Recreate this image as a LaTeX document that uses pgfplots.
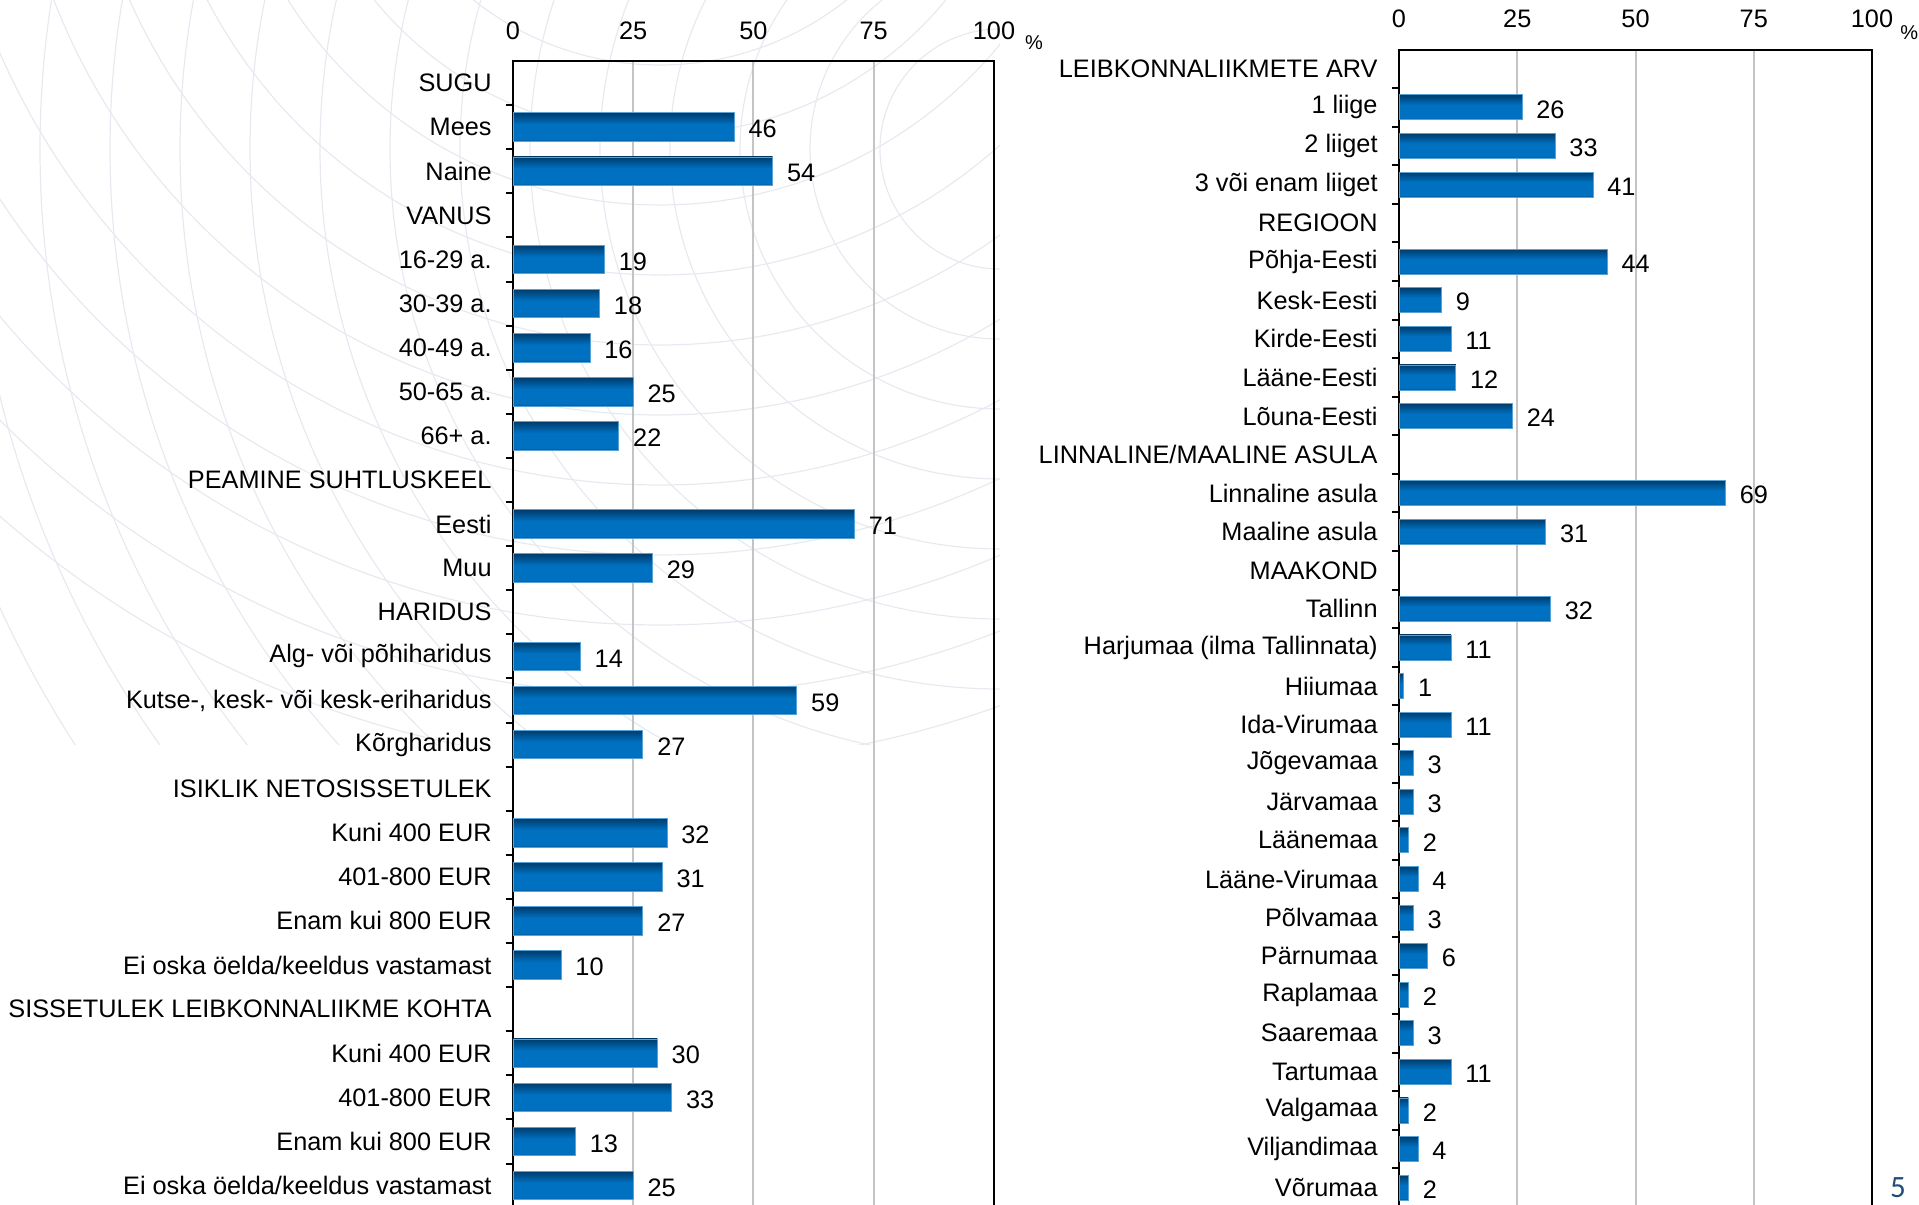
\documentclass[border=0pt]{standalone}
\usepackage{pgfplots}
\pgfplotsset{compat=1.18}
\usepackage{fontspec}
\setmainfont{Liberation Sans}
\newfontfamily\pagefont{Carlito}

\definecolor{barmid}{HTML}{0070C0}
\definecolor{bardark}{HTML}{003C6C}
\definecolor{gridgray}{HTML}{C4C4C4}
\definecolor{bgline}{HTML}{E6EAF0}
\definecolor{pagenum}{HTML}{1F4E79}

% dark upper edge, blue body, slightly darker lower edge
\pgfdeclareverticalshading{barshade}{100bp}{color(0bp)=(barmid!80!black); color(25bp)=(barmid!80!black); color(29bp)=(barmid); color(55bp)=(barmid); color(75bp)=(bardark); color(100bp)=(bardark)}

\newcommand{\lbl}{\fontsize{12.65}{15}\selectfont}
% one bar per \addplot so that every bar gets its own shading
\newcommand{\hb}[2]{\addplot[barstyle] coordinates {(#1,#2)};}

\pgfplotsset{
  panel/.style={
    scale only axis,
    xbar, bar shift=0pt,
    xmin=0, xmax=100,
    y dir=reverse,
    xtick={0,25,50,75,100},
    xticklabel pos=upper,
    xmajorgrids,
    major grid style={gridgray, line width=1pt},
    major tick length=0pt,
    minor tick length=3.5pt,
    tick align=outside,
    ytick pos=left,
    axis line style={line width=1pt},
    minor tick style={black, line width=1pt},
    /pgf/number format/assume math mode=true,
    tick label style={font=\lbl},
    xticklabel style={inner sep=0pt, yshift=10.5pt},
    yticklabel style={anchor=east, inner sep=0pt, xshift=-10.5pt},
    point meta=x,
    nodes near coords,
    every node near coord/.append style={font=\lbl, anchor=west, inner sep=0pt, xshift=7pt, yshift=-1pt, black},
  },
  barstyle/.style={shading=barshade, draw=barmid!65!white, line width=0.4pt},
}

\begin{document}
\begin{tikzpicture}
\useasboundingbox (0,0) rectangle (959.5pt,602.5pt);

% faint background pattern of the slide
\begin{scope}
  \clip (0,230pt) rectangle (500pt,602.5pt);
  \foreach \r in {60,95,...,560} {
    \draw[bgline, line width=0.6pt] (500pt,528pt) circle (\r pt);
  }
  \foreach \r in {80,115,...,520} {
    \draw[bgline, line width=0.6pt] (330pt,720pt) circle (\r pt);
  }
\end{scope}

\begin{axis}[panel,
  at={(256.5pt,572pt)}, anchor=north west,
  width=240.5pt, height=573.3pt,
  ymin=-0.5, ymax=25.5,
  bar width=14.3pt,
  ytick={0,...,25},
  minor ytick={0.5,1.5,...,24.5},
  yticklabels={SUGU,Mees,Naine,VANUS,16-29 a.,30-39 a.,40-49 a.,50-65 a.,66+ a.,PEAMINE SUHTLUSKEEL,Eesti,Muu,HARIDUS,Alg- või põhiharidus,{Kutse-, kesk- või kesk-eriharidus},Kõrgharidus,ISIKLIK NETOSISSETULEK,Kuni 400 EUR,401-800 EUR,Enam kui 800 EUR,Ei oska öelda/keeldus vastamast,SISSETULEK LEIBKONNALIIKME KOHTA,Kuni 400 EUR,401-800 EUR,Enam kui 800 EUR,Ei oska öelda/keeldus vastamast},
]
\hb{46}{1} \hb{54}{2}
\hb{19}{4} \hb{18}{5} \hb{16}{6} \hb{25}{7} \hb{22}{8}
\hb{71}{10} \hb{29}{11}
\hb{14}{13} \hb{59}{14} \hb{27}{15}
\hb{32}{17} \hb{31}{18} \hb{27}{19} \hb{10}{20}
\hb{30}{22} \hb{33}{23} \hb{13}{24} \hb{25}{25}
\end{axis}

\begin{axis}[panel,
  at={(699.5pt,577.75pt)}, anchor=north west,
  width=236.5pt, height=578.7pt,
  ymin=-0.5, ymax=29.5,
  bar width=12.5pt,
  ytick={0,...,29},
  minor ytick={0.5,1.5,...,28.5},
  yticklabels={LEIBKONNALIIKMETE ARV,1 liige,2 liiget,3 või enam liiget,REGIOON,Põhja-Eesti,Kesk-Eesti,Kirde-Eesti,Lääne-Eesti,Lõuna-Eesti,LINNALINE/MAALINE ASULA,Linnaline asula,Maaline asula,MAAKOND,Tallinn,Harjumaa (ilma Tallinnata),Hiiumaa,Ida-Virumaa,Jõgevamaa,Järvamaa,Läänemaa,Lääne-Virumaa,Põlvamaa,Pärnumaa,Raplamaa,Saaremaa,Tartumaa,Valgamaa,Viljandimaa,Võrumaa},
]
\hb{26}{1} \hb{33}{2} \hb{41}{3}
\hb{44}{5} \hb{9}{6} \hb{11}{7} \hb{12}{8} \hb{24}{9}
\hb{69}{11} \hb{31}{12}
\hb{32}{14} \hb{11}{15} \hb{1}{16} \hb{11}{17} \hb{3}{18} \hb{3}{19} \hb{2}{20} \hb{4}{21}
\hb{3}{22} \hb{6}{23} \hb{2}{24} \hb{3}{25} \hb{11}{26} \hb{2}{27} \hb{4}{28} \hb{2}{29}
\end{axis}

\node[font=\fontsize{10}{12}\selectfont, inner sep=0pt] at (517pt,581pt) {\%};
\node[font=\fontsize{10}{12}\selectfont, inner sep=0pt, anchor=east] at (959.3pt,586pt) {\%};
\node[font=\pagefont\fontsize{15.5}{18}\selectfont, text=pagenum, inner sep=0pt, anchor=south] at (949pt,3.5pt) {5};
\end{tikzpicture}
\end{document}
